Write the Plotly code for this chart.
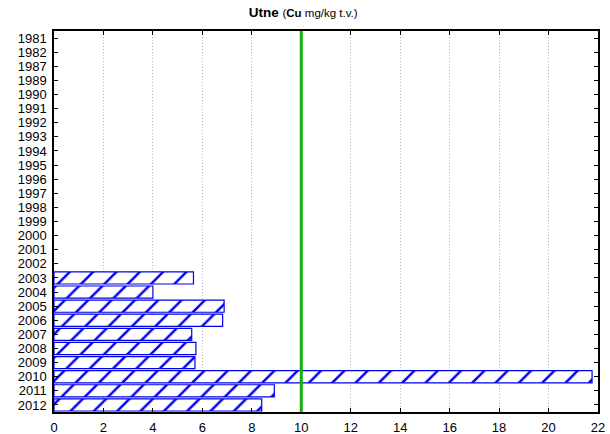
import plotly.graph_objects as go

years = ["1981", "1982", "1987", "1989", "1990", "1991", "1992", "1993", "1994", "1995",
         "1996", "1997", "1998", "1999", "2000", "2001", "2002", "2003", "2004", "2005",
         "2006", "2007", "2008", "2009", "2010", "2011", "2012"]
cu_values = [None, None, None, None, None, None, None, None, None, None,
             None, None, None, None, None, None, None, 5.64, 4.0, 6.88,
             6.82, 5.57, 5.74, 5.70, 21.76, 8.91, 8.40]
limit_value = 10
x_ticks = [0, 2, 4, 6, 8, 10, 12, 14, 16, 18, 20, 22]

fig = go.Figure()
fig.add_trace(go.Bar(
    y=years, x=cu_values, orientation="h",
    marker=dict(color="white", line=dict(color="#0000ee", width=1.2),
                pattern=dict(shape="/", fgcolor="#0000ee", bgcolor="white",
                             size=16.5, solidity=0.15, fillmode="replace")),
    showlegend=False, hoverinfo="skip",
))
fig.add_shape(type="line", x0=limit_value, x1=limit_value, y0=0, y1=1, yref="paper",
              line=dict(color="#10b010", width=3))

fig.update_layout(
    width=610, height=434,
    margin=dict(l=54, r=12, t=31, b=22, autoexpand=False),
    paper_bgcolor="white", plot_bgcolor="white",
    bargap=0.14,
    font=dict(family="Liberation Sans, Arial, sans-serif", size=13, color="black"),
    title=dict(text="<b>Utne</b> <span style='font-size:11.5px'>(<b>Cu</b> mg/kg t.v.)</span>",
               x=0.497, xanchor="center", y=0.972, yanchor="middle",
               font=dict(size=13.5, color="black")),
)
fig.update_xaxes(range=[0, 22], tickmode="array", tickvals=x_ticks, showgrid=True,
                 gridcolor="#b8b8b8", griddash="1px,2px", gridwidth=1, showline=True,
                 linecolor="black", linewidth=1.5, mirror="ticks", ticks="inside", ticklen=4,
                 tickcolor="black", zeroline=False, automargin=False, ticklabelstandoff=3)
fig.update_yaxes(categoryorder="array", categoryarray=years, autorange="reversed",
                 tickmode="array", tickvals=years, ticktext=years,
                 showgrid=False, showline=True, linecolor="black", linewidth=1.5,
                 mirror="ticks", ticks="inside", ticklen=4, tickcolor="black",
                 automargin=False, ticklabelstandoff=3)

fig.write_html("out.html", config={"displayModeBar": False},
               post_script="document.body.style.margin='0';document.body.style.overflow='hidden';")
